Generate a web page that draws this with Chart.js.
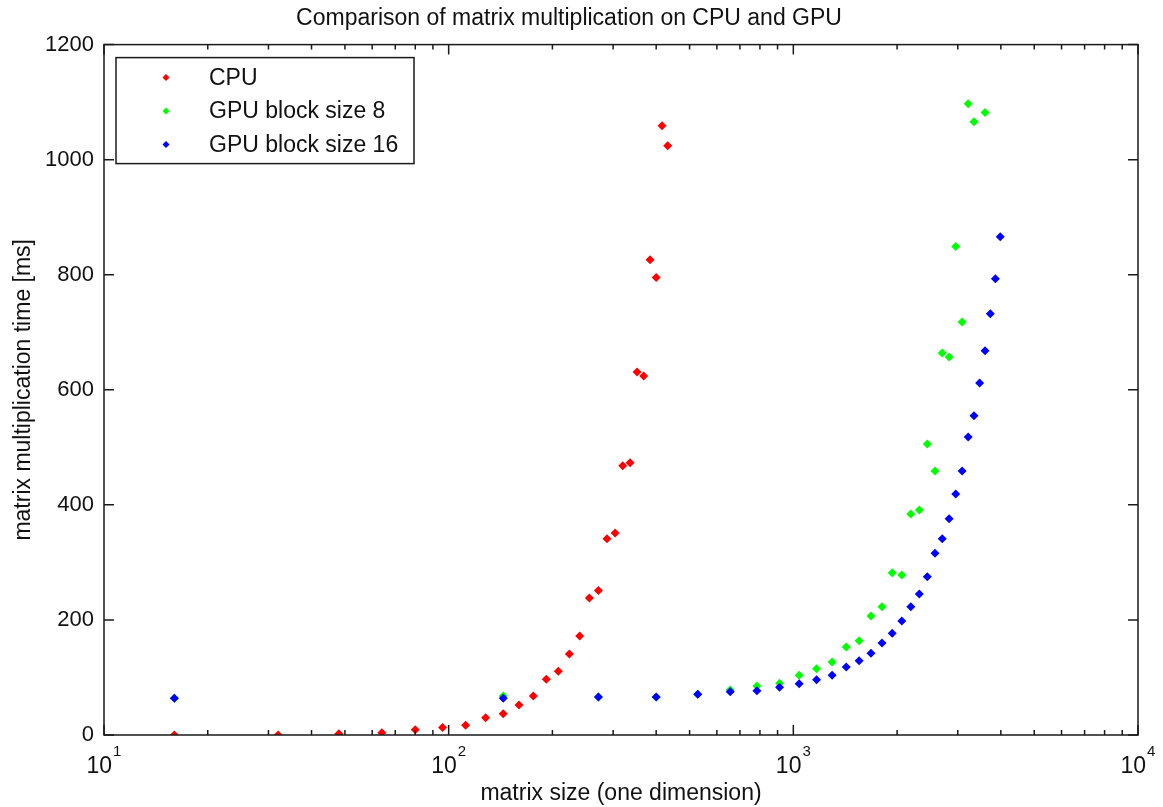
<!DOCTYPE html>
<html>
<head>
<meta charset="utf-8">
<title>Comparison of matrix multiplication on CPU and GPU</title>
<script src="https://cdn.jsdelivr.net/npm/chart.js@4.4.1/dist/chart.umd.min.js"></script>
<style>
  html, body { margin: 0; padding: 0; background: #fff; }
  #wrap { width: 1163px; height: 807px; }
</style>
</head>
<body>
<div id="wrap"><canvas id="myChart"></canvas></div>
<script>
// matrix sizes (one dimension) and times in ms
const cpuSizes = [16, 32, 48, 64, 80, 96, 112, 128, 144, 160, 176, 192, 208, 224,
  240, 256, 272, 288, 304, 320, 336, 352, 368, 384, 400, 416, 432];
const cpuTimes = [0, 0, 2, 4, 9, 13, 17, 30, 37, 52, 68, 97, 111, 141,
  172, 238, 251, 341, 351, 468, 473, 631, 624, 826, 795, 1059, 1024];

const gpuSizes = [16, 144, 272, 400, 528, 656, 784, 912, 1040, 1168, 1296, 1424,
  1552, 1680, 1808, 1936, 2064, 2192, 2320, 2448, 2576, 2704, 2832, 2960,
  3088, 3216, 3344, 3472, 3600, 3728, 3856, 3984];
const gpu8Times = [64, 68, 66, 66, 71, 78, 85, 90, 104, 115, 127, 153,
  164, 207, 223, 282, 278, 384, 391, 506, 459, 664, 657, 849,
  718, 1097, 1066, null, 1082, null, null, null];
const gpu16Times = [64, 64, 66, 66, 71, 75, 77, 83, 89, 96, 104, 118,
  129, 142, 160, 177, 198, 223, 245, 275, 316, 341, 376, 419,
  459, 518, 555, 612, 668, 732, 793, 866];

const xTickValues = [10, 100, 1000, 10000];
const minorSteps = [2, 3, 4, 5, 6, 7, 8, 9];
const yTickValues = [0, 200, 400, 600, 800, 1000, 1200];

const FONT = '"Liberation Sans", Arial, sans-serif';
Chart.defaults.font.family = FONT;
Chart.defaults.color = '#111';

function toPoints(sizes, times) {
  const pts = [];
  sizes.forEach((s, i) => {
    if (times[i] !== null) pts.push({ x: s, y: times[i] });
  });
  return pts;
}

// box, inward ticks, 10^n labels and legend like the matlab figure
const matlabFrame = {
  id: 'matlabFrame',
  afterDatasetsDraw(chart) {
    const { ctx, chartArea: a } = chart;
    const x = chart.scales.x;
    const y = chart.scales.y;
    ctx.save();
    ctx.strokeStyle = '#1a1a1a';
    ctx.lineWidth = 1.5;
    ctx.strokeRect(a.left, a.top, a.right - a.left, a.bottom - a.top);

    ctx.beginPath();
    yTickValues.forEach(v => {
      const py = y.getPixelForValue(v);
      ctx.moveTo(a.left, py); ctx.lineTo(a.left + 10, py);
      ctx.moveTo(a.right, py); ctx.lineTo(a.right - 10, py);
    });
    xTickValues.forEach((d, i) => {
      const px = x.getPixelForValue(d);
      ctx.moveTo(px, a.bottom); ctx.lineTo(px, a.bottom - 10);
      ctx.moveTo(px, a.top); ctx.lineTo(px, a.top + 10);
      if (i < xTickValues.length - 1) {
        minorSteps.forEach(m => {
          const mx = x.getPixelForValue(d * m);
          ctx.moveTo(mx, a.bottom); ctx.lineTo(mx, a.bottom - 5);
          ctx.moveTo(mx, a.top); ctx.lineTo(mx, a.top + 5);
        });
      }
    });
    ctx.stroke();

    // x tick labels: 10 with raised exponent
    ctx.fillStyle = '#111';
    ctx.textBaseline = 'alphabetic';
    ctx.textAlign = 'left';
    xTickValues.forEach(d => {
      const px = x.getPixelForValue(d);
      const exp = String(Math.round(Math.log10(d)));
      ctx.font = '23px ' + FONT;
      const wBase = ctx.measureText('10').width;
      ctx.font = '15px ' + FONT;
      const wExp = ctx.measureText(exp).width;
      const x0 = px - (wBase + wExp + 1) / 2;
      ctx.font = '23px ' + FONT;
      ctx.fillText('10', x0, a.bottom + 38);
      ctx.font = '15px ' + FONT;
      ctx.fillText(exp, x0 + wBase + 1, a.bottom + 21);
    });

    // legend
    const lx = a.left + 12, ly = a.top + 13, lw = 298, lh = 106;
    ctx.fillStyle = '#fff';
    ctx.fillRect(lx, ly, lw, lh);
    ctx.strokeStyle = '#1a1a1a';
    ctx.lineWidth = 1.5;
    ctx.strokeRect(lx, ly, lw, lh);
    ctx.font = '23px ' + FONT;
    ctx.textBaseline = 'middle';
    chart.data.datasets.forEach((ds, i) => {
      const ry = ly + 20 + i * 33.5;
      const mx = lx + 50;
      ctx.fillStyle = ds.backgroundColor;
      ctx.beginPath();
      ctx.moveTo(mx - 3.5, ry); ctx.lineTo(mx, ry - 3.5);
      ctx.lineTo(mx + 3.5, ry); ctx.lineTo(mx, ry + 3.5);
      ctx.closePath();
      ctx.fill();
      ctx.fillStyle = '#111';
      ctx.fillText(ds.label, lx + 93, ry + 1);
    });
    ctx.restore();
  }
};

const ctx = document.getElementById('myChart').getContext('2d');

const myChart = new Chart(ctx, {
  type: 'scatter',
  data: {
    datasets: [{
      label: 'CPU',
      data: toPoints(cpuSizes, cpuTimes),
      backgroundColor: '#ff0000',
      borderWidth: 0,
      order: 3
    }, {
      label: 'GPU block size 8',
      data: toPoints(gpuSizes, gpu8Times),
      backgroundColor: '#00ff00',
      borderWidth: 0,
      order: 2
    }, {
      label: 'GPU block size 16',
      data: toPoints(gpuSizes, gpu16Times),
      backgroundColor: '#0000ff',
      borderWidth: 0,
      order: 1
    }]
  },
  options: {
    responsive: true,
    maintainAspectRatio: false,
    animation: false,
    events: [],
    elements: {
      point: { pointStyle: 'rectRot', radius: 4.5 }
    },
    layout: { padding: { left: 0, right: 25, top: 0, bottom: 0 } },
    plugins: {
      legend: { display: false },
      tooltip: { enabled: false },
      title: {
        display: true,
        text: 'Comparison of matrix multiplication on CPU and GPU',
        font: { size: 23, weight: 'normal' },
        color: '#111',
        padding: { top: 5, bottom: 12 }
      }
    },
    scales: {
      x: {
        type: 'logarithmic',
        min: 10,
        max: 10000,
        grid: { display: false, drawTicks: false },
        border: { display: false },
        ticks: { display: false },
        title: {
          display: true,
          text: 'matrix size (one dimension)',
          font: { size: 23 },
          color: '#111',
          padding: { top: 0, bottom: 0 }
        },
        afterFit: (s) => { s.height = 72; }
      },
      y: {
        min: 0,
        max: 1200,
        grid: { display: false, drawTicks: false },
        border: { display: false },
        ticks: {
          stepSize: 200,
          padding: 10,
          font: { size: 22 },
          color: '#111',
          callback: (v) => String(v)
        },
        title: {
          display: true,
          text: 'matrix multiplication time [ms]',
          font: { size: 23 },
          color: '#111',
          padding: { top: 10, bottom: 0 }
        },
        afterFit: (s) => { s.width = 104; }
      }
    }
  },
  plugins: [matlabFrame]
});
</script>
</body>
</html>
